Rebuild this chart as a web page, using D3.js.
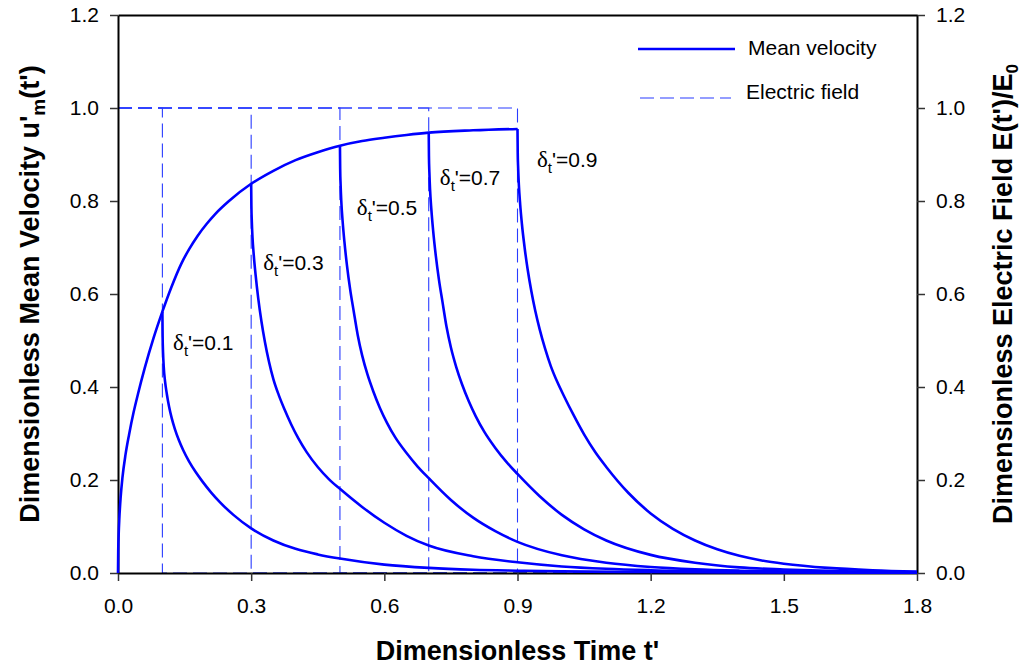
<!DOCTYPE html>
<html>
<head>
<meta charset="utf-8">
<script src="https://d3js.org/d3.v7.min.js"></script>
<style>
  body { margin: 0; background: #fff; }
  text { font-family: "Liberation Sans", Arial, sans-serif; }
</style>
</head>
<body>
<div id="chart"></div>
<script>
// ---- data ----
const xTicks = [0, 0.3, 0.6, 0.9, 1.2, 1.5, 1.8];
const yTicks = [0, 0.2, 0.4, 0.6, 0.8, 1.0, 1.2];

// field switched on at t'=0 (rising mean velocity)
const riseTime = [0, 0.0005, 0.0015, 0.003, 0.006, 0.01, 0.017, 0.025, 0.035, 0.045, 0.06, 0.08, 0.1, 0.12, 0.143, 0.16, 0.18, 0.2, 0.22, 0.25, 0.3, 0.35, 0.4, 0.45, 0.5, 0.55, 0.6, 0.65, 0.7, 0.8, 0.9];
const riseVel  = [0, 0.048, 0.083, 0.117, 0.163, 0.205, 0.255, 0.298, 0.345, 0.385, 0.44, 0.505, 0.562, 0.614, 0.666, 0.696, 0.726, 0.751, 0.773, 0.8, 0.837, 0.865, 0.888, 0.905, 0.919, 0.929, 0.936, 0.942, 0.947, 0.952, 0.955];

// field switched off at t'=delta
const pulseWidths = [0.1, 0.3, 0.5, 0.7, 0.9];

const off01Time = [0.1, 0.1005, 0.1015, 0.103, 0.106, 0.11, 0.115, 0.121, 0.128, 0.137, 0.147, 0.16, 0.175, 0.19, 0.21, 0.23, 0.26, 0.3, 0.35, 0.4, 0.45, 0.5, 0.6, 0.7, 0.8, 0.9, 1.0, 1.2, 1.5, 1.8];
const off01Vel  = [0.562, 0.51, 0.474, 0.444, 0.412, 0.385, 0.358, 0.333, 0.31, 0.286, 0.264, 0.24, 0.217, 0.197, 0.173, 0.152, 0.125, 0.096, 0.07, 0.052, 0.04, 0.031, 0.018, 0.011, 0.007, 0.005, 0.0035, 0.002, 0.001, 0.0005];

const off03Time = [0.3, 0.3005, 0.3015, 0.303, 0.306, 0.31, 0.316, 0.323, 0.331, 0.34, 0.35, 0.362, 0.375, 0.39, 0.406, 0.425, 0.45, 0.475, 0.5, 0.55, 0.6, 0.65, 0.7, 0.8, 0.9, 1.0, 1.1, 1.2, 1.4, 1.6, 1.8];
const off03Vel  = [0.837, 0.79, 0.755, 0.722, 0.682, 0.641, 0.59, 0.542, 0.497, 0.455, 0.417, 0.383, 0.352, 0.32, 0.29, 0.26, 0.228, 0.202, 0.181, 0.142, 0.108, 0.08, 0.059, 0.036, 0.023, 0.014, 0.009, 0.006, 0.0028, 0.0014, 0.0007];

const off05Time = [0.5, 0.5005, 0.5015, 0.503, 0.506, 0.51, 0.516, 0.523, 0.531, 0.54, 0.55, 0.562, 0.575, 0.59, 0.606, 0.625, 0.65, 0.675, 0.7, 0.75, 0.8, 0.85, 0.9, 1.0, 1.1, 1.2, 1.3, 1.4, 1.6, 1.8];
const off05Vel  = [0.92, 0.87, 0.835, 0.8, 0.757, 0.713, 0.66, 0.61, 0.563, 0.512, 0.468, 0.427, 0.391, 0.355, 0.323, 0.291, 0.258, 0.229, 0.204, 0.157, 0.119, 0.09, 0.067, 0.038, 0.022, 0.013, 0.008, 0.005, 0.002, 0.001];

const off07Time = [0.7, 0.7005, 0.7015, 0.703, 0.706, 0.71, 0.716, 0.723, 0.731, 0.74, 0.75, 0.762, 0.775, 0.79, 0.806, 0.825, 0.85, 0.875, 0.9, 0.95, 1.0, 1.05, 1.1, 1.2, 1.3, 1.4, 1.5, 1.6, 1.8];
const off07Vel  = [0.948, 0.897, 0.861, 0.825, 0.781, 0.736, 0.682, 0.631, 0.583, 0.53, 0.485, 0.443, 0.406, 0.37, 0.337, 0.304, 0.269, 0.239, 0.213, 0.165, 0.125, 0.094, 0.07, 0.039, 0.022, 0.012, 0.0075, 0.0045, 0.0015];

const off09Time = [0.9, 0.9005, 0.9015, 0.903, 0.906, 0.91, 0.916, 0.923, 0.931, 0.94, 0.95, 0.962, 0.975, 0.99, 1.006, 1.025, 1.05, 1.075, 1.1, 1.15, 1.2, 1.25, 1.3, 1.35, 1.4, 1.45, 1.5, 1.6, 1.7, 1.8];
const off09Vel  = [0.955, 0.905, 0.87, 0.836, 0.793, 0.75, 0.7, 0.652, 0.607, 0.564, 0.524, 0.483, 0.445, 0.41, 0.378, 0.342, 0.298, 0.26, 0.228, 0.172, 0.128, 0.095, 0.07, 0.051, 0.037, 0.027, 0.02, 0.011, 0.006, 0.003];

// electric field pulse E/E0 : on, on, off, off
const fieldLevels = [1, 1, 0, 0];

const legendNames = ["Mean velocity", "Electric field"];

// ---- chart ----
const W = 1025, H = 669;
const margin = {top: 15, right: 108, bottom: 96, left: 118};

const svg = d3.select("#chart").append("svg")
    .attr("width", W)
    .attr("height", H);

const x = d3.scaleLinear().domain([0, 1.8]).range([margin.left, W - margin.right]);
const y = d3.scaleLinear().domain([0, 1.2]).range([H - margin.bottom, margin.top]);

const line = d3.line()
    .x(d => x(d[0]))
    .y(d => y(d[1]))
    .curve(d3.curveMonotoneX);

const straight = d3.line()
    .x(d => x(d[0]))
    .y(d => y(d[1]));

const BLUE = "#0000ff";
const DASHBLUE = "#2a3cff";

// electric field pulses (dashed), drawn under the axes
pulseWidths.forEach(w => {
    let pts = [0, w, w, 1.8].map((t, i) => [t, fieldLevels[i]]);
    svg.append("path")
        .datum(pts)
        .attr("d", straight)
        .attr("fill", "none")
        .attr("stroke", DASHBLUE)
        .attr("stroke-width", 1.1)
        .attr("stroke-dasharray", "14,6");
});

// axes
const fmt = d3.format(".1f");
const xAxis = svg.append("g")
    .attr("transform", `translate(0,${y(0)})`)
    .call(d3.axisBottom(x).tickValues(xTicks).tickFormat(fmt).tickSize(8).tickSizeOuter(0).tickPadding(17));
const yAxisL = svg.append("g")
    .attr("transform", `translate(${x(0)},0)`)
    .call(d3.axisLeft(y).tickValues(yTicks).tickFormat(fmt).tickSize(8).tickSizeOuter(0).tickPadding(11));
const yAxisR = svg.append("g")
    .attr("transform", `translate(${x(1.8)},0)`)
    .call(d3.axisRight(y).tickValues(yTicks).tickFormat(fmt).tickSize(8).tickSizeOuter(0).tickPadding(11));
const xAxisTop = svg.append("g")
    .attr("transform", `translate(0,${y(1.2)})`)
    .call(d3.axisTop(x).tickValues([]).tickSizeOuter(0));

[xAxis, yAxisL, yAxisR, xAxisTop].forEach(g => {
    g.select(".domain").attr("stroke", "#000").attr("stroke-width", 2);
    g.selectAll(".tick line").attr("stroke", "#333").attr("stroke-width", 1.5);
    g.selectAll(".tick text")
        .attr("fill", "#000")
        .style("font-family", "Liberation Sans, Arial, sans-serif")
        .style("font-size", "21px");
});

// mean velocity curves
const series = [
    [riseTime, riseVel],
    [off01Time, off01Vel],
    [off03Time, off03Vel],
    [off05Time, off05Vel],
    [off07Time, off07Vel],
    [off09Time, off09Vel]
];
series.forEach(s => {
    svg.append("path")
        .datum(s[0].map((t, i) => [t, s[1][i]]))
        .attr("d", line)
        .attr("fill", "none")
        .attr("stroke", BLUE)
        .attr("stroke-width", 2.6)
        .attr("stroke-linejoin", "round");
});

// delta labels
const labelAt = [[0.124, 0.479], [0.327, 0.651], [0.538, 0.770], [0.725, 0.834], [0.944, 0.873]];
pulseWidths.forEach((w, i) => {
    let t = svg.append("text")
        .attr("x", x(labelAt[i][0]))
        .attr("y", y(labelAt[i][1]))
        .style("font-size", "21px")
        .attr("fill", "#000");
    t.append("tspan").text("\u03b4").style("font-family", "Liberation Serif, serif").style("font-size", "23px");
    t.append("tspan").text("t").attr("dy", 6).style("font-size", "15px");
    t.append("tspan").text("'=" + fmt(w)).attr("dy", -6);
});

// axis titles
svg.append("text")
    .attr("x", (x(0) + x(1.8)) / 2)
    .attr("y", 660)
    .attr("text-anchor", "middle")
    .style("font-size", "27px")
    .style("font-weight", "bold")
    .text("Dimensionless Time t'");

let lt = svg.append("text")
    .attr("transform", `translate(39,${(y(0) + y(1.2)) / 2}) rotate(-90)`)
    .attr("text-anchor", "middle")
    .style("font-size", "27px")
    .style("font-weight", "bold");
lt.append("tspan").text("Dimensionless Mean Velocity u'");
lt.append("tspan").text("m").attr("dy", 6).style("font-size", "19px");
lt.append("tspan").text("(t')").attr("dy", -6);

let rt = svg.append("text")
    .attr("transform", `translate(1012,${(y(0) + y(1.2)) / 2}) rotate(-90)`)
    .attr("text-anchor", "middle")
    .style("font-size", "27px")
    .style("font-weight", "bold");
rt.append("tspan").text("Dimensionless Electric Field E(t')/E");
rt.append("tspan").text("0").attr("dy", 6).style("font-size", "17px");

// legend
const legend = svg.append("g").attr("transform", "translate(638,49)");
legendNames.forEach((name, i) => {
    let g = legend.append("g").attr("transform", `translate(0,${i * 49})`);
    g.append("line")
        .attr("x1", i ? 2 : 0).attr("x2", i ? 93 : 97)
        .attr("stroke", i ? DASHBLUE : BLUE)
        .attr("stroke-width", i ? 1.1 : 2.6)
        .attr("stroke-dasharray", i ? "14,6" : null);
    g.append("text")
        .attr("x", i ? 108 : 110)
        .attr("y", i ? 1 : 6)
        .style("font-size", "21px")
        .text(name);
});
</script>
</body>
</html>
